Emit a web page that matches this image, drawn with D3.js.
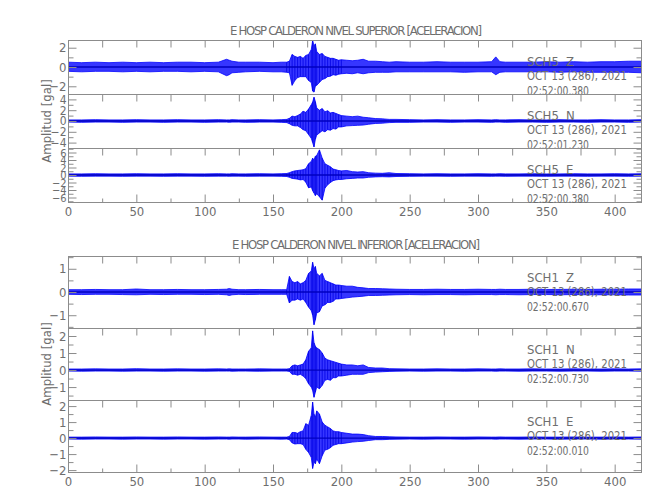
<!DOCTYPE html>
<html><head><meta charset="utf-8">
<script src="https://cdn.jsdelivr.net/npm/d3@7"></script>
<style>
body{margin:0;background:#fff;}
text{font-family:"Liberation Sans Narrow","DejaVu Sans Condensed","Arial Narrow",sans-serif;fill:#6e6e6e;}
</style></head><body>
<svg id="c" width="650" height="500"></svg>
<script>
// ---- data (seconds, gal) ----
const T = [0,10,20,30,40,50,60,70,80,90,100,110,116,118,120,125,130,140,150,156,
  160,162,164,166,168,170,172,174,176,178,179,180,181,182,184,186,188,190,192,194,196,198,200,
  204,208,212,216,220,225,230,235,240,250,260,270,280,290,300,310,313,316,320,330,340,350,360,370,380,390,400,410,420];

const zsHi = [.50,.45,.50,.45,.50,.45,.50,.45,.50,.50,.45,.50,.80,.70,.60,.50,.50,.50,.45,.50,
  .50,.60,1.3,1.1,1.0,1.1,.90,1.2,1.3,1.8,2.75,2.2,2.4,1.6,1.3,1.4,1.1,1.0,.90,.90,.80,.70,.75,
  .70,.65,.70,.80,.60,.60,.55,.50,.55,.50,.50,.55,.50,.50,.50,.55,1.05,.55,.50,.50,.50,.55,.50,.55,.50,.55,.55,.60,.60];
const zsLo = [-.45,-.50,-.45,-.45,-.50,-.45,-.50,-.45,-.45,-.50,-.45,-.50,-.90,-.80,-.60,-.55,-.50,-.45,-.50,-.50,
  -.55,-.60,-1.9,-1.4,-1.1,-1.0,-1.0,-1.0,-1.4,-1.6,-2.5,-2.6,-2.0,-1.9,-1.6,-1.3,-1.2,-1.0,-.95,-.80,-.85,-.75,-.70,
  -.65,-.70,-.60,-.70,-.60,-.55,-.55,-.55,-.50,-.50,-.50,-.50,-.50,-.55,-.50,-.50,-.80,-.55,-.50,-.50,-.50,-.50,-.55,-.50,-.55,-.55,-.55,-.55,-.60];

const nsHi = [.20,.20,.25,.20,.20,.25,.20,.20,.25,.20,.20,.25,.20,.20,.25,.20,.20,.25,.20,.25,
  .30,.50,.90,.80,1.0,1.3,1.8,1.6,2.2,3.0,3.5,4.4,3.6,2.4,2.0,2.3,1.7,1.9,1.5,1.6,1.4,1.2,1.0,
  .90,.80,.90,.70,.60,.45,.40,.30,.30,.25,.20,.25,.20,.20,.25,.20,.25,.20,.20,.25,.20,.20,.25,.20,.20,.25,.20,.20,.25];
const nsLo = [-.20,-.25,-.20,-.20,-.25,-.20,-.20,-.25,-.20,-.20,-.25,-.20,-.20,-.25,-.20,-.20,-.25,-.20,-.20,-.25,
  -.30,-.50,-.80,-.90,-.90,-1.2,-1.6,-1.8,-2.5,-3.2,-4.0,-4.8,-3.4,-2.6,-2.2,-1.8,-2.0,-1.6,-1.7,-1.4,-1.5,-1.1,-1.1,
  -.90,-.85,-.80,-.75,-.60,-.45,-.40,-.30,-.25,-.25,-.20,-.20,-.25,-.20,-.20,-.25,-.20,-.20,-.25,-.20,-.20,-.25,-.20,-.20,-.25,-.20,-.20,-.25,-.20];

const esHi = [.30,.30,.35,.30,.30,.35,.30,.30,.35,.30,.30,.35,.30,.30,.35,.30,.30,.35,.30,.35,
  .40,.60,.90,1.1,1.2,1.3,1.4,1.7,3.0,3.6,4.5,4.0,5.0,5.2,6.7,4.5,3.0,2.6,2.2,1.6,1.4,1.2,1.1,
  1.2,.90,.80,.90,.60,.50,.45,.60,.40,.35,.30,.35,.30,.30,.35,.30,.30,.35,.30,.30,.35,.30,.30,.35,.30,.30,.35,.30,.35];
const esLo = [-.30,-.35,-.30,-.30,-.35,-.30,-.30,-.35,-.30,-.30,-.35,-.30,-.30,-.35,-.30,-.30,-.35,-.30,-.30,-.35,
  -.40,-.60,-.90,-1.0,-1.1,-1.3,-1.2,-1.9,-3.4,-3.2,-4.2,-4.8,-5.5,-5.0,-5.8,-6.7,-3.5,-2.6,-2.0,-1.5,-1.3,-1.2,-1.2,
  -1.0,-.90,-.80,-.80,-.60,-.50,-.45,-.50,-.40,-.35,-.30,-.30,-.35,-.30,-.30,-.35,-.30,-.30,-.35,-.30,-.30,-.35,-.30,-.30,-.35,-.30,-.30,-.35,-.30];

const ziHi = [.10,.10,.11,.10,.10,.13,.10,.10,.11,.10,.10,.11,.12,.15,.12,.10,.10,.11,.10,.10,
  .10,.67,.45,.40,.45,.35,.40,.50,.80,.90,1.28,1.0,1.1,.80,.70,.80,.50,.45,.40,.35,.30,.30,.28,
  .25,.25,.20,.18,.15,.15,.14,.13,.12,.11,.11,.12,.11,.11,.12,.11,.11,.12,.11,.11,.12,.11,.11,.12,.11,.12,.12,.13,.13];
const ziLo = [-.10,-.11,-.10,-.10,-.11,-.12,-.10,-.11,-.10,-.10,-.11,-.10,-.12,-.15,-.12,-.10,-.11,-.10,-.10,-.10,
  -.10,-.47,-.35,-.35,-.30,-.35,-.30,-.45,-.65,-.80,-1.0,-1.41,-1.2,-.90,-.85,-.60,-.55,-.45,-.45,-.40,-.30,-.30,-.28,
  -.25,-.22,-.20,-.18,-.15,-.15,-.14,-.13,-.12,-.11,-.12,-.11,-.11,-.12,-.11,-.11,-.12,-.11,-.11,-.12,-.11,-.11,-.12,-.11,-.12,-.12,-.12,-.13,-.13];

const niHi = [.06,.06,.07,.06,.06,.08,.06,.06,.07,.06,.06,.07,.06,.07,.06,.06,.06,.07,.06,.06,
  .06,.08,.25,.30,.25,.30,.35,.60,1.1,1.3,2.3,1.6,1.4,1.3,1.2,1.0,.70,.60,.55,.50,.45,.40,.35,
  .30,.30,.25,.30,.15,.12,.12,.08,.07,.06,.06,.07,.06,.06,.07,.06,.06,.07,.06,.06,.07,.06,.06,.07,.06,.06,.07,.06,.07];
const niLo = [-.06,-.07,-.06,-.06,-.07,-.06,-.06,-.07,-.06,-.06,-.07,-.06,-.06,-.06,-.07,-.06,-.06,-.07,-.06,-.06,
  -.06,-.08,-.25,-.25,-.30,-.25,-.35,-.50,-.80,-1.0,-1.2,-1.6,-1.3,-1.0,-1.1,-.90,-.60,-.55,-.60,-.45,-.45,-.35,-.35,
  -.30,-.25,-.25,-.25,-.15,-.12,-.10,-.08,-.07,-.06,-.07,-.06,-.06,-.07,-.06,-.06,-.07,-.06,-.06,-.07,-.06,-.06,-.07,-.06,-.06,-.07,-.06,-.06,-.07];

const eiHi = [.06,.06,.07,.06,.06,.07,.06,.06,.07,.06,.06,.07,.06,.06,.07,.06,.06,.07,.06,.06,
  .06,.10,.35,.35,.30,.40,.45,.90,.80,1.4,2.25,1.5,1.3,1.7,1.5,1.0,.80,.70,.60,.45,.40,.40,.35,
  .30,.25,.25,.22,.15,.10,.10,.08,.07,.06,.06,.07,.06,.06,.07,.06,.06,.07,.06,.06,.07,.06,.06,.07,.06,.06,.07,.06,.07];
const eiLo = [-.06,-.07,-.06,-.06,-.07,-.06,-.06,-.07,-.06,-.06,-.07,-.06,-.06,-.07,-.06,-.06,-.07,-.06,-.06,-.07,
  -.06,-.10,-.30,-.37,-.35,-.35,-.40,-.70,-.90,-1.2,-1.9,-1.5,-1.6,-1.3,-1.6,-1.1,-.75,-.70,-.60,-.45,-.40,-.35,-.35,
  -.30,-.25,-.22,-.20,-.15,-.10,-.10,-.08,-.07,-.06,-.07,-.06,-.06,-.07,-.06,-.06,-.07,-.06,-.06,-.07,-.06,-.06,-.07,-.06,-.06,-.07,-.06,-.06,-.07];

// axis domains and tick labels
const xDomain = [0, 420];
const xTicks = [0,50,100,150,200,250,300,350,400];
const domZs = [-2.8, 2.8], ticksZs = [-2,0,2];
const domNs = [-5, 5], ticksNs = [-4,-2,0,2,4];
const domEs = [-7.2, 7.2], ticksEs = [-6,-4,-2,0,2,4,6];
const domZi = [-1.55, 1.55], ticksZi = [-1,0,1];
const domNi = [-1.76, 2.47], ticksNi = [-1,0,1,2];
const domEi = [-2.12, 2.38], ticksEi = [-2,-1,0,1,2];

const titleSup = "E HOSP CALDERON NIVEL SUPERIOR [ACELERACION]";
const titleInf = "E HOSP CALDERON NIVEL INFERIOR [ACELERACION]";
const yTitle = "Amplitud [gal]";
const dateLabel = "OCT 13 (286), 2021";
const stations = ["SCH5","SCH5","SCH5","SCH1","SCH1","SCH1"];
const comps = ["Z","N","E","Z","N","E"];
const times = ["02:52:00.380","02:52:01.230","02:52:00.380","02:52:00.670","02:52:00.730","02:52:00.010"];

// ---- drawing ----
const svg = d3.select("#c");
const x = d3.scaleLinear().domain(xDomain).range([68, 642]);
const axisCol = "#8c8c8c";

const traces = [
  {hi: zsHi, lo: zsLo, dom: domZs, major: ticksZs, step: 1, fs: 13},
  {hi: nsHi, lo: nsLo, dom: domNs, major: ticksNs, step: 1, fs: 12},
  {hi: esHi, lo: esLo, dom: domEs, major: ticksEs, step: 1, fs: 11},
  {hi: ziHi, lo: ziLo, dom: domZi, major: ticksZi, step: 0.5, fs: 13},
  {hi: niHi, lo: niLo, dom: domNi, major: ticksNi, step: 0.5, fs: 13},
  {hi: eiHi, lo: eiLo, dom: domEi, major: ticksEi, step: 0.5, fs: 13}
];
const groups = [
  {title: titleSup, titleY: 35, titleLen: 252, top: 40, h: 54, idx: [0,1,2]},
  {title: titleInf, titleY: 249, titleLen: 248, top: 256, h: 72, idx: [3,4,5]}
];

function styleAxis(sel, fs) {
  sel.select(".domain").remove();
  sel.selectAll(".tick line").attr("stroke", axisCol).attr("stroke-width", 1);
  sel.selectAll(".tick text").attr("fill", "#6e6e6e").style("font-size", (fs || 13) + "px")
     .style("font-family", '"Liberation Sans Narrow","DejaVu Sans Condensed",sans-serif');
}

groups.forEach((G, gi) => {
  svg.append("text").attr("x", 356).attr("y", G.titleY).attr("text-anchor", "middle")
    .attr("textLength", G.titleLen).attr("lengthAdjust", "spacing")
    .style("font-size", "13px").text(G.title);
  const midY = G.top + G.h * 1.5;
  svg.append("text").attr("transform", `translate(51,${midY}) rotate(-90)`)
    .attr("text-anchor", "middle").style("font-size", "13px").text(yTitle);

  G.idx.forEach((ti, k) => {
    const tr = traces[ti];
    const y0 = G.top + k * G.h, y1 = y0 + G.h;
    const y = d3.scaleLinear().domain(tr.dom).range([y1, y0]);
    const g = svg.append("g");
    const cid = "clip" + ti;
    g.append("clipPath").attr("id", cid).append("rect")
      .attr("x", 68).attr("y", y0).attr("width", 574).attr("height", G.h);
    const area = d3.area()
      .x((d, i) => x(T[i]))
      .y0((d, i) => y(tr.lo[i]))
      .y1((d, i) => y(tr.hi[i]));
    const wg = g.append("g").attr("clip-path", `url(#${cid})`);
    wg.append("path").datum(tr.hi).attr("d", area)
      .attr("fill", "#3636ff").attr("stroke", "#0000ff").attr("stroke-width", 0.8);
    // vertical sticks where the envelope is densely sampled (strong-motion part)
    const dense = T.map((t, i) => i).filter(i => T[i] >= 160 && T[i] <= 200);
    wg.selectAll("line.stk").data(dense).join("line").attr("class", "stk")
      .attr("x1", i => x(T[i])).attr("x2", i => x(T[i]))
      .attr("y1", i => y(tr.hi[i])).attr("y2", i => y(tr.lo[i]))
      .attr("stroke", "#0000e6").attr("stroke-width", 0.8);
    wg.append("line").attr("x1", x(xDomain[0])).attr("x2", x(xDomain[1]))
      .attr("y1", y(0)).attr("y2", y(0)).attr("stroke", "#0000c0").attr("stroke-width", 1.3);

    // frame
    g.append("rect").attr("x", 68.5).attr("y", y0 + 0.5).attr("width", 573).attr("height", G.h)
      .attr("fill", "none").attr("stroke", axisCol).attr("stroke-width", 1);

    const minor = d3.range(Math.ceil(tr.dom[0] / tr.step) * tr.step, tr.dom[1] + 1e-9, tr.step)
      .filter(v => !tr.major.some(m => Math.abs(m - v) < 1e-9));
    // left axis
    g.append("g").attr("transform", "translate(68.5,0)")
      .call(d3.axisLeft(y).tickValues(tr.major).tickSize(-8).tickPadding(2).tickFormat(d3.format("d")))
      .call(styleAxis, tr.fs);
    g.append("g").attr("transform", "translate(68.5,0)")
      .call(d3.axisLeft(y).tickValues(minor).tickSize(-5).tickFormat(""))
      .call(styleAxis);
    // right axis
    g.append("g").attr("transform", "translate(641.5,0)")
      .call(d3.axisRight(y).tickValues(tr.major).tickSize(-8).tickFormat(""))
      .call(styleAxis);
    g.append("g").attr("transform", "translate(641.5,0)")
      .call(d3.axisRight(y).tickValues(minor).tickSize(-5).tickFormat(""))
      .call(styleAxis);
    // top ticks
    g.append("g").attr("transform", `translate(0,${y0 + 0.5})`)
      .call(d3.axisTop(x).tickValues(d3.range(25, 420, 25)).tickSize(-7).tickFormat(""))
      .call(styleAxis);

    if (k === 2) {
      g.append("g").attr("transform", `translate(0,${y1 + 0.5})`)
        .call(d3.axisBottom(x).tickValues(xTicks).tickSize(-8).tickPadding(4).tickFormat(d3.format("d")))
        .call(styleAxis);
      g.append("g").attr("transform", `translate(0,${y1 + 0.5})`)
        .call(d3.axisBottom(x).tickValues(d3.range(25, 420, 50)).tickSize(-4).tickFormat(""))
        .call(styleAxis);
    }

    // annotations
    const a = g.append("g").style("font-size", "13px");
    a.append("text").attr("x", 527).attr("y", y0 + 25.5).text(stations[ti]);
    a.append("text").attr("x", 566).attr("y", y0 + 25.5).text(comps[ti]);
    a.append("text").attr("x", 527).attr("y", y0 + 40).attr("textLength", 100)
      .attr("lengthAdjust", "spacingAndGlyphs").text(dateLabel);
    a.append("text").attr("x", 527).attr("y", y0 + 54.5).attr("textLength", 62)
      .attr("lengthAdjust", "spacingAndGlyphs").text(times[ti]);
  });
});
</script>
</body></html>
